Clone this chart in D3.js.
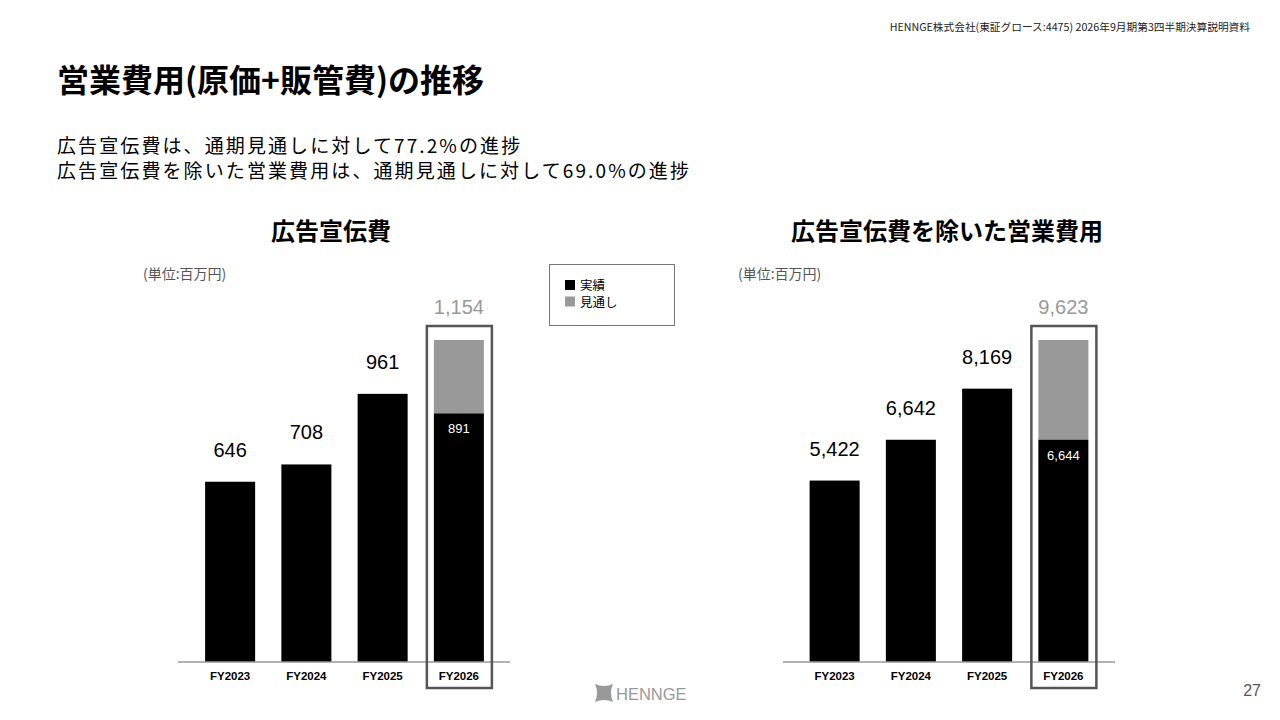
<!DOCTYPE html>
<html>
<head>
<meta charset="utf-8">
<script src="https://cdn.jsdelivr.net/npm/d3@7"></script>
<style>
  html, body { margin: 0; padding: 0; background: #fff; }
  svg { display: block; }
  .jp { font-family: "Noto Sans CJK JP", "Noto Sans", sans-serif; }
  .num { font-family: "Liberation Sans", Arial, sans-serif; }
</style>
</head>
<body>
<svg id="chart" width="1280" height="720"></svg>
<script>
// data
const categories = ["FY2023", "FY2024", "FY2025", "FY2026"]
const adActual = [646, 708, 961, 891]
const adForecast = [null, null, null, 1154]
const opActual = [5422, 6642, 8169, 6644]
const opForecast = [null, null, null, 9623]
const legendLabels = ["実績", "見通し"]

const svg = d3.select("#chart")

// header texts
svg.append("text")
   .attr("class", "jp")
   .attr("x", 1250).attr("y", 31)
   .attr("text-anchor", "end")
   .attr("font-size", 10.7)
   .attr("fill", "#222")
   .text("HENNGE株式会社(東証グロース:4475) 2026年9月期第3四半期決算説明資料")

svg.append("text")
   .attr("class", "jp")
   .attr("x", 57).attr("y", 92)
   .attr("font-size", 32)
   .attr("font-weight", "bold")
   .attr("fill", "#000")
   .text("営業費用(原価+販管費)の推移")

svg.append("text")
   .attr("class", "jp")
   .attr("x", 57).attr("y", 153)
   .attr("font-size", 19)
   .attr("letter-spacing", 2.1)
   .attr("fill", "#000")
   .text("広告宣伝費は、通期見通しに対して77.2%の進捗")

svg.append("text")
   .attr("class", "jp")
   .attr("x", 57).attr("y", 178)
   .attr("font-size", 19)
   .attr("letter-spacing", 2.1)
   .attr("fill", "#000")
   .text("広告宣伝費を除いた営業費用は、通期見通しに対して69.0%の進捗")

const baseY = 662
const topY = 340

drawChart = function (opts) {
    let g = svg.append("g")

    let x = d3.scaleBand()
              .domain(categories)
              .range(opts.band)
              .paddingInner(0.344)
              .paddingOuter(0.172)

    let y = d3.scaleLinear()
              .domain([0, d3.max(opts.forecast)])
              .range([baseY, topY])

    let rows = categories.map((c, i) => ({cat: c, actual: opts.actual[i], forecast: opts.forecast[i]}))

    // chart title
    g.append("text")
     .attr("class", "jp")
     .attr("x", opts.titleX).attr("y", 240)
     .attr("text-anchor", "middle")
     .attr("font-size", 24)
     .attr("font-weight", "bold")
     .text(opts.title)

    g.append("text")
     .attr("class", "jp")
     .attr("x", opts.unitX).attr("y", 279)
     .attr("font-size", 14)
     .attr("fill", "#555")
     .text("(単位:百万円)")

    // forecast part
    g.selectAll(".fc")
     .data(rows.filter(d => d.forecast != null))
     .enter()
     .append("rect")
     .attr("x", d => x(d.cat))
     .attr("width", x.bandwidth())
     .attr("y", d => y(d.forecast))
     .attr("height", d => y(d.actual) - y(d.forecast))
     .attr("fill", "#999")

    // actual bars
    g.selectAll(".ac")
     .data(rows)
     .enter()
     .append("rect")
     .attr("x", d => x(d.cat))
     .attr("width", x.bandwidth())
     .attr("y", d => y(d.actual))
     .attr("height", d => baseY - y(d.actual))
     .attr("fill", "#000")

    // axis line
    g.append("line")
     .attr("x1", opts.axis[0]).attr("x2", opts.axis[1])
     .attr("y1", baseY).attr("y2", baseY)
     .attr("stroke", "#999")
     .attr("stroke-width", 1.5)

    let xAxis = g.append("g")
                 .attr("transform", "translate(0," + baseY + ")")
                 .call(d3.axisBottom(x).tickSize(0).tickPadding(10))
    xAxis.select(".domain").remove()
    xAxis.selectAll("text")
         .attr("class", "num")
         .attr("font-size", 11.5)
         .attr("font-weight", "bold")
         .attr("fill", "#000")

    // value labels
    rows.forEach(d => {
        let cx = x(d.cat) + x.bandwidth() / 2
        if (d.forecast == null) {
            g.append("text")
             .attr("class", "num")
             .attr("x", cx).attr("y", y(d.actual) - 25)
             .attr("text-anchor", "middle")
             .attr("font-size", 20)
             .attr("fill", "#000")
             .text(d3.format(",")(d.actual))
        } else {
            g.append("text")
             .attr("class", "num")
             .attr("x", cx).attr("y", y(d.forecast) - 26)
             .attr("text-anchor", "middle")
             .attr("font-size", 20)
             .attr("fill", "#999")
             .text(d3.format(",")(d.forecast))

            g.append("text")
             .attr("class", "num")
             .attr("x", cx).attr("y", y(d.actual) + 20)
             .attr("text-anchor", "middle")
             .attr("font-size", 13)
             .attr("fill", "#fff")
             .text(d3.format(",")(d.actual))

            // highlight frame
            g.append("rect")
             .attr("x", x(d.cat) - 7)
             .attr("y", y(d.forecast) - 14)
             .attr("width", x.bandwidth() + 15)
             .attr("height", baseY + 26 - (y(d.forecast) - 14))
             .attr("fill", "none")
             .attr("stroke", "#555")
             .attr("stroke-width", 2.5)
        }
    })
}

drawChart({
    title: "広告宣伝費",
    titleX: 331,
    unitX: 143,
    band: [192, 497],
    axis: [178, 510],
    actual: adActual,
    forecast: adForecast
})

drawChart({
    title: "広告宣伝費を除いた営業費用",
    titleX: 947,
    unitX: 738,
    band: [796.5, 1101.5],
    axis: [783, 1115],
    actual: opActual,
    forecast: opForecast
})

// legend
let legend = svg.append("g")
legend.append("rect")
      .attr("x", 549.5).attr("y", 264.5)
      .attr("width", 125).attr("height", 61)
      .attr("fill", "#fff")
      .attr("stroke", "#777")
      .attr("stroke-width", 1)

legend.selectAll(".item")
      .data(legendLabels)
      .enter()
      .append("g")
      .attr("transform", (d, i) => "translate(565," + (280 + i * 16.5) + ")")
      .each(function (d, i) {
          d3.select(this).append("rect")
            .attr("width", 10).attr("height", 10)
            .attr("fill", i === 0 ? "#000" : "#999")
          d3.select(this).append("text")
            .attr("class", "jp")
            .attr("x", 15).attr("y", 10)
            .attr("font-size", 12.5)
            .attr("fill", "#000")
            .text(d)
      })

// logo
let logo = svg.append("g").attr("transform", "translate(595,684)")
logo.append("path")
    .attr("d", "M0,0 Q9,4 18,0 Q14,9 18,18 Q9,14 0,18 Q4,9 0,0 Z")
    .attr("fill", "#999")
logo.append("text")
    .attr("class", "num")
    .attr("x", 21).attr("y", 16)
    .attr("font-size", 16.5)
    .attr("fill", "#999")
    .text("HENNGE")

svg.append("text")
   .attr("class", "num")
   .attr("x", 1261).attr("y", 696)
   .attr("text-anchor", "end")
   .attr("font-size", 16)
   .attr("fill", "#555")
   .text("27")
</script>
</body>
</html>
